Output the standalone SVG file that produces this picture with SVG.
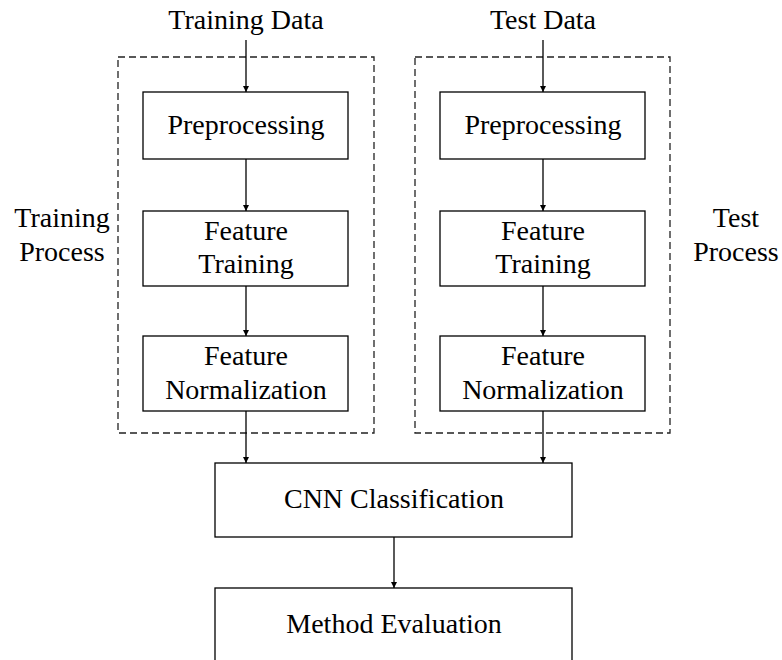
<svg xmlns="http://www.w3.org/2000/svg" width="782" height="660" viewBox="0 0 782 660">
<defs>
<marker id="ah" viewBox="0 0 10 10" refX="10" refY="5" markerWidth="6" markerHeight="11" markerUnits="userSpaceOnUse" orient="auto">
<path d="M0,0 L10,5 L0,10 Z" fill="#000"/>
</marker>
<style>
text{font-family:"Liberation Serif","Times New Roman",serif;font-size:28px;fill:#000;text-anchor:middle}
.box{fill:#fff;stroke:#000;stroke-width:1.3}
.grp{fill:none;stroke:#222;stroke-width:1.3;stroke-dasharray:7,4}
.con{stroke:#000;stroke-width:1.3;fill:none;marker-end:url(#ah)}
</style>
</defs>
<rect width="782" height="660" fill="#fff"/>
<g id="training-process">
<rect class="grp" x="118" y="57" width="256" height="376"/>
<text x="62" y="227">Training</text>
<text x="62" y="261">Process</text>
</g>
<g id="test-process">
<rect class="grp" x="415" y="57" width="255" height="376"/>
<text x="736" y="227">Test</text>
<text x="736" y="261">Process</text>
</g>
<g id="training-data"><text x="246" y="29">Training Data</text></g>
<g id="test-data"><text x="543" y="29">Test Data</text></g>
<g id="train-pre"><rect class="box" x="143" y="92" width="205" height="67"/><text x="246" y="134">Preprocessing</text></g>
<g id="train-ft"><rect class="box" x="143" y="211" width="205" height="75"/><text x="246" y="240">Feature</text><text x="246" y="273">Training</text></g>
<g id="train-fn"><rect class="box" x="143" y="336" width="205" height="75"/><text x="246" y="365">Feature</text><text x="246" y="399">Normalization</text></g>
<g id="test-pre"><rect class="box" x="440" y="92" width="205" height="67"/><text x="543" y="134">Preprocessing</text></g>
<g id="test-ft"><rect class="box" x="440" y="211" width="205" height="75"/><text x="543" y="240">Feature</text><text x="543" y="273">Training</text></g>
<g id="test-fn"><rect class="box" x="440" y="336" width="205" height="75"/><text x="543" y="365">Feature</text><text x="543" y="399">Normalization</text></g>
<g id="cnn"><rect class="box" x="215" y="463" width="357" height="74"/><text x="394" y="508">CNN Classification</text></g>
<g id="eval"><rect class="box" x="215" y="588" width="357" height="80"/><text x="394" y="633">Method Evaluation</text></g>
<g id="connectors">
<line class="con" x1="246" y1="40" x2="246" y2="92"/>
<line class="con" x1="246" y1="159" x2="246" y2="211"/>
<line class="con" x1="246" y1="286" x2="246" y2="336"/>
<line class="con" x1="246" y1="411" x2="246" y2="463"/>
<line class="con" x1="543" y1="40" x2="543" y2="92"/>
<line class="con" x1="543" y1="159" x2="543" y2="211"/>
<line class="con" x1="543" y1="286" x2="543" y2="336"/>
<line class="con" x1="543" y1="411" x2="543" y2="463"/>
<line class="con" x1="394" y1="537" x2="394" y2="588"/>
</g>
</svg>
